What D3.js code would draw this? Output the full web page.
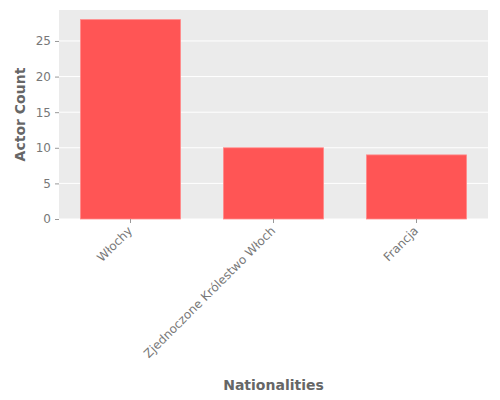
<html>
<head>
<meta charset="utf-8">
<script src="https://d3js.org/d3.v7.min.js"></script>
</head>
<body style="margin:0">
<div id="chart"></div>
<script>
const categories = ['Włochy', 'Zjednoczone Królestwo Włoch', 'Francja'];
const counts = [28, 10, 9];
const yTicks = [0, 5, 10, 15, 20, 25];

const W = 500, H = 400;
const m = {left: 59, right: 12, top: 10, bottom: 181};
const svg = d3.select('#chart').append('svg').attr('width', W).attr('height', H);

const x = d3.scaleBand().domain(categories).range([m.left, W - m.right])
  .paddingInner(0.3).paddingOuter(0.15);
const y = d3.scaleLinear().domain([0, 29.35]).range([H - m.bottom, m.top]);

svg.append('rect').attr('x', m.left).attr('y', m.top)
  .attr('width', W - m.left - m.right).attr('height', H - m.top - m.bottom)
  .attr('fill', '#ebebeb');

svg.selectAll('.grid').data(yTicks).join('line')
  .attr('x1', m.left).attr('x2', W - m.right)
  .attr('y1', d => y(d)).attr('y2', d => y(d))
  .attr('stroke', '#fff').attr('stroke-width', 1);

svg.selectAll('.bar').data(categories).join('rect')
  .attr('x', d => x(d)).attr('width', x.bandwidth())
  .attr('y', (d, i) => y(counts[i])).attr('height', (d, i) => y(0) - y(counts[i]))
  .attr('fill', '#ff5555').attr('stroke', '#ff8a8a').attr('stroke-width', 0.8);

const ya = svg.append('g').attr('transform', `translate(${m.left},0)`)
  .call(d3.axisLeft(y).tickValues(yTicks).tickSize(4).tickPadding(4));
ya.select('.domain').remove();
ya.selectAll('line').attr('stroke', '#999');
ya.selectAll('text').attr('fill', '#777').style('font-size', '12px')
  .style('font-family', 'DejaVu Sans');

const xa = svg.append('g').attr('transform', `translate(0,${H - m.bottom})`)
  .call(d3.axisBottom(x).tickSize(4).tickPadding(6));
xa.select('.domain').remove();
xa.selectAll('line').attr('stroke', '#999');
xa.selectAll('text').attr('fill', '#777').style('font-size', '12px')
  .style('font-family', 'DejaVu Sans')
  .attr('text-anchor', 'end').attr('dy', '0.3em')
  .attr('transform', 'translate(0,10) rotate(-45)').attr('y', 0).attr('x', 0);

svg.append('text').attr('x', (m.left + W - m.right) / 2).attr('y', 390)
  .attr('text-anchor', 'middle').attr('fill', '#666').style('font-size', '14px')
  .style('font-family', 'DejaVu Sans').style('font-weight', 'bold')
  .text('Nationalities');
svg.append('text').attr('transform', `translate(25,${(m.top + H - m.bottom) / 2}) rotate(-90)`)
  .attr('text-anchor', 'middle').attr('fill', '#666').style('font-size', '14px')
  .style('font-family', 'DejaVu Sans').style('font-weight', 'bold')
  .text('Actor Count');
</script>
</body>
</html>
